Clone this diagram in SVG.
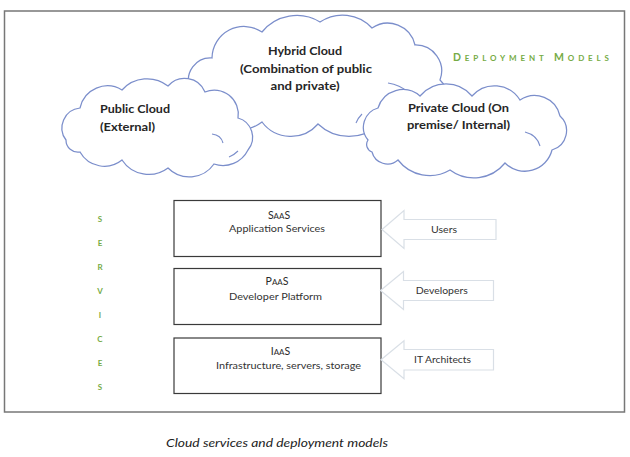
<svg xmlns="http://www.w3.org/2000/svg" width="630" height="457" viewBox="0 0 630 457">
<style>
.cloud{fill:#fff;stroke:#7b8ecb;stroke-width:1.25}
.inner{fill:none;stroke:#7b8ecb;stroke-width:1.1}
.ct{font-family:Lato,"Liberation Sans",sans-serif;font-weight:700;font-size:12px;fill:#262626}
.box{fill:#fff;stroke:#3a3a3a;stroke-width:1.2}
.bt{font-family:Lato,"Liberation Sans",sans-serif;font-size:10px;fill:#333;text-anchor:middle}
.bh{font-family:Lato,"Liberation Sans",sans-serif;font-size:10.5px;fill:#2a2a2a;text-anchor:middle}
.arrow{fill:#fff;stroke:#d9dfe6;stroke-width:1.2}
.at{font-family:Lato,"Liberation Sans",sans-serif;font-size:10px;fill:#333;text-anchor:middle}
.green{font-family:Lato,"Liberation Sans",sans-serif;font-weight:700;fill:#76ab45}
.sv{font-family:Lato,"Liberation Sans",sans-serif;font-weight:700;fill:#76ab45;text-anchor:middle;font-size:8px}
</style>
<rect x="4.5" y="11" width="620" height="401" fill="#fff" stroke="#777" stroke-width="1.5"/>

<g id="hybrid-cloud">
<path class="cloud" d="M190,88 A22,22 0 0 1 212,58 A32,32 0 0 1 262,32 A45,45 0 0 1 320,22 A40,40 0 0 1 372,28 A28,28 0 0 1 415,45 A26,26 0 0 1 440,80 A24,24 0 0 1 436,118 A40,40 0 0 1 380,124 A45,45 0 0 1 318,124 A36,36 0 0 1 262,122 A45,45 0 0 1 190,88 Z"/>
<path class="inner" d="M388,83 Q400,85 408,92"/>
<path class="inner" d="M356,123 Q358,118 362,114"/>
<text class="ct" x="305" y="55" text-anchor="middle" textLength="74" lengthAdjust="spacingAndGlyphs">Hybrid Cloud</text>
<text class="ct" x="306" y="73" text-anchor="middle" textLength="132" lengthAdjust="spacingAndGlyphs">(Combination of public</text>
<text class="ct" x="305" y="90" text-anchor="middle" textLength="69" lengthAdjust="spacingAndGlyphs">and private)</text>
</g>

<g id="public-cloud">
<path class="cloud" d="M66,140 A20,20 0 0 1 80,108 A28,28 0 0 1 122,90 A34,34 0 0 1 168,86 A22,22 0 0 1 205,92 A24,24 0 0 1 238,118 A20,20 0 0 1 248,150 A28,28 0 0 1 214,164 A30,30 0 0 1 168,168 A32,32 0 0 1 122,160 A28,28 0 0 1 80,152 A12,12 0 0 1 66,140 Z"/>
<path class="inner" d="M212,134 Q221,135 223,143"/>
<path class="inner" d="M229,157 Q234,155 238,151"/>
<text class="ct" x="100" y="113" textLength="70" lengthAdjust="spacingAndGlyphs">Public Cloud</text>
<text class="ct" x="100" y="131" textLength="55" lengthAdjust="spacingAndGlyphs">(External)</text>
</g>

<g id="private-cloud">
<path class="cloud" d="M368,140 A20,20 0 0 1 378,108 A26,26 0 0 1 420,96 A34,34 0 0 1 472,96 A30,30 0 0 1 520,100 A26,26 0 0 1 560,116 A20,20 0 0 1 552,150 A28,28 0 0 1 505,163 A40,40 0 0 1 450,170 A40,40 0 0 1 398,160 A16,16 0 0 1 372,152 A8,8 0 0 1 368,140 Z"/>
<path class="inner" d="M525,132 Q537,135 540,146"/>
<text class="ct" x="458.5" y="112" text-anchor="middle" textLength="101" lengthAdjust="spacingAndGlyphs">Private Cloud (On</text>
<text class="ct" x="458.5" y="129" text-anchor="middle" textLength="103" lengthAdjust="spacingAndGlyphs">premise/ Internal)</text>
</g>

<g id="deployment-models-label">
<text class="green" x="453" y="61" font-size="10.5" textLength="156" lengthAdjust="spacing">D<tspan font-size="8">EPLOYMENT</tspan> M<tspan font-size="8">ODELS</tspan></text>
</g>

<g id="services-label">
<text class="sv" x="100" y="221.5" font-size="10">S</text>
<text class="sv" x="100" y="245.5">E</text>
<text class="sv" x="100" y="269.5">R</text>
<text class="sv" x="100" y="293.5">V</text>
<text class="sv" x="100" y="317.5">I</text>
<text class="sv" x="100" y="341.5">C</text>
<text class="sv" x="100" y="365.5">E</text>
<text class="sv" x="100" y="390" font-size="10">S</text>
</g>

<g id="saas">
<rect class="box" x="174" y="200.5" width="207" height="56"/>
<text class="bh" x="279" y="219">S<tspan font-size="8">AA</tspan>S</text>
<text class="bt" x="277" y="232" textLength="96" lengthAdjust="spacingAndGlyphs">Application Services</text>
</g>

<g id="paas">
<rect class="box" x="174" y="268.5" width="207" height="56"/>
<text class="bh" x="277" y="285">P<tspan font-size="8">AA</tspan>S</text>
<text class="bt" x="275.5" y="300" textLength="93" lengthAdjust="spacingAndGlyphs">Developer Platform</text>
</g>

<g id="iaas">
<rect class="box" x="174" y="338" width="207" height="55.5"/>
<text class="bh" x="280.5" y="355">I<tspan font-size="8">AA</tspan>S</text>
<text class="bt" x="288.5" y="369" textLength="145" lengthAdjust="spacingAndGlyphs">Infrastructure, servers, storage</text>
</g>

<g id="connectors">
<polygon class="arrow" points="382,229.5 404,210.5 404,219.5 496,219.5 496,239.5 404,239.5 404,248.5"/>
<polygon class="arrow" points="380.5,290.5 403.5,271.5 403.5,280.5 493.5,280.5 493.5,300.5 403.5,300.5 403.5,309.5"/>
<polygon class="arrow" points="381,359.7 404,340.7 404,349.5 493.5,349.5 493.5,370 404,370 404,378.7"/>
</g>

<g id="users">
<text class="at" x="444" y="233" textLength="26" lengthAdjust="spacingAndGlyphs">Users</text>
</g>
<g id="developers">
<text class="at" x="441.7" y="293.5" textLength="52" lengthAdjust="spacingAndGlyphs">Developers</text>
</g>
<g id="it-architects">
<text class="at" x="442.5" y="363" textLength="57" lengthAdjust="spacingAndGlyphs">IT Architects</text>
</g>

<g id="caption">
<text x="277" y="447" text-anchor="middle" font-family="Lato, 'Liberation Sans', sans-serif" font-style="italic" font-size="11.5" fill="#222" textLength="222" lengthAdjust="spacingAndGlyphs">Cloud services and deployment models</text>
</g>
</svg>
